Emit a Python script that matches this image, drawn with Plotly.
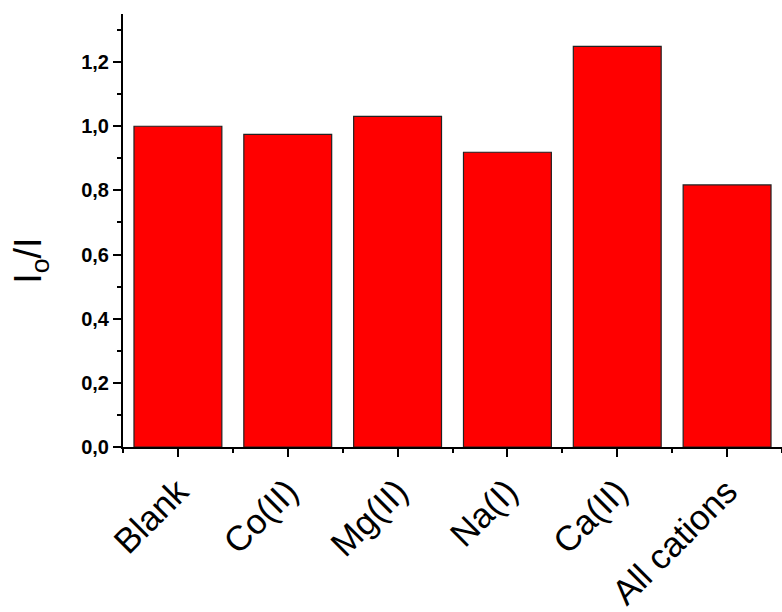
import plotly.graph_objects as go

# Relative fluorescence ratio for each added cation
categories = ["Blank", "Co(II)", "Mg(II)", "Na(I)", "Ca(II)", "All cations"]
ratios = [1.000, 0.975, 1.031, 0.919, 1.249, 0.817]

positions = list(range(len(categories)))

FONT = "Liberation Sans, Arial, sans-serif"

fig = go.Figure(
    go.Bar(
        x=positions,
        y=ratios,
        width=0.8,
        marker=dict(color="#FF0000", line=dict(color="#222222", width=1.2)),
    )
)

fig.update_layout(
    width=782,
    height=612,
    margin=dict(l=123, r=0, t=14, b=163),
    paper_bgcolor="white",
    plot_bgcolor="white",
    separators=",.",
    showlegend=False,
    font=dict(family=FONT, color="black"),
)

fig.update_xaxes(
    range=[-0.5, 5.5],
    tickmode="array",
    tickvals=positions,
    ticktext=categories,
    tickangle=-45,
    tickfont=dict(size=35, family=FONT),
    ticks="outside",
    ticklen=8,
    tickwidth=2,
    tickcolor="black",
    showline=True,
    linecolor="black",
    linewidth=2,
    showgrid=False,
    zeroline=False,
    minor=dict(tickmode="linear", tick0=0.5, dtick=1, ticks="outside",
               ticklen=4, tickwidth=1.5, tickcolor="black"),
)

fig.update_yaxes(
    range=[0, 1.35],
    tickmode="linear",
    tick0=0,
    dtick=0.2,
    tickformat=".1f",
    tickfont=dict(size=20, family=FONT, weight="bold"),
    ticks="outside",
    ticklen=8,
    tickwidth=2,
    tickcolor="black",
    showline=True,
    linecolor="black",
    linewidth=2,
    showgrid=False,
    zeroline=False,
    minor=dict(tickmode="linear", tick0=0, dtick=0.1, ticks="outside",
               ticklen=4, tickwidth=1.5, tickcolor="black"),
)

# Y-axis title placed as a rotated annotation, slightly below the axis midpoint
fig.add_annotation(
    text="I<sub>o</sub>/I",
    textangle=-90,
    xref="paper", yref="paper",
    x=-0.1396, y=0.43,
    xanchor="center", yanchor="middle",
    showarrow=False,
    font=dict(size=38, family=FONT, color="black"),
)

fig.write_html("out.html")
